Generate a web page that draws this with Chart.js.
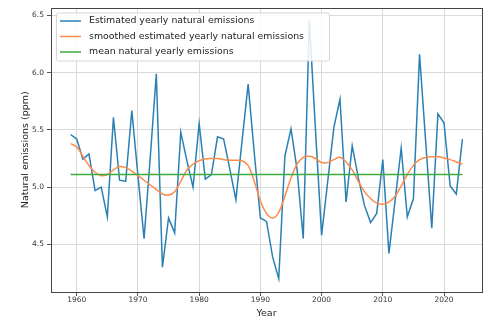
<!DOCTYPE html>
<html>
<head>
<meta charset="utf-8">
<script src="https://cdn.jsdelivr.net/npm/chart.js@4.4.1/dist/chart.umd.min.js"></script>
<style>
  html, body { margin: 0; padding: 0; background: #fff; }
  #wrap { width: 500px; height: 329px; }
</style>
</head>
<body>
<div id="wrap"><canvas id="chart" width="500" height="329"></canvas></div>
<script>
// Data
const YEARS = [1959, 1960, 1961, 1962, 1963, 1964, 1965, 1966, 1967, 1968, 1969,
  1970, 1971, 1972, 1973, 1974, 1975, 1976, 1977, 1978, 1979,
  1980, 1981, 1982, 1983, 1984, 1985, 1986, 1987, 1988, 1989,
  1990, 1991, 1992, 1993, 1994, 1995, 1996, 1997, 1998, 1999,
  2000, 2001, 2002, 2003, 2004, 2005, 2006, 2007, 2008, 2009,
  2010, 2011, 2012, 2013, 2014, 2015, 2016, 2017, 2018, 2019,
  2020, 2021, 2022, 2023];
const EMISSIONS = [5.46, 5.42, 5.245, 5.29, 4.97, 5.00, 4.74, 5.61, 5.06, 5.05, 5.67,
  5.10, 4.55, 5.25, 5.99, 4.30, 4.73, 4.60, 5.48, 5.23, 5.00,
  5.555, 5.07, 5.11, 5.44, 5.42, 5.16, 4.89, 5.40, 5.90, 5.30,
  4.73, 4.70, 4.39, 4.20, 5.27, 5.51, 5.15, 4.55, 6.46, 5.50,
  4.58, 5.05, 5.52, 5.77, 4.87, 5.36, 5.08, 4.84, 4.69, 4.77,
  5.24, 4.42, 4.88, 5.34, 4.74, 4.90, 6.16, 5.40, 4.64, 5.64,
  5.56, 5.01, 4.94, 5.42];
const SMOOTHED = [5.38, 5.35, 5.27, 5.19, 5.13, 5.10, 5.11, 5.15, 5.18, 5.17, 5.14,
  5.10, 5.06, 5.02, 4.98, 4.94, 4.93, 4.96, 5.05, 5.15, 5.20,
  5.23, 5.245, 5.25, 5.25, 5.24, 5.235, 5.235, 5.23, 5.19, 5.05,
  4.88, 4.77, 4.73, 4.78, 4.92, 5.08, 5.20, 5.26, 5.27, 5.25,
  5.215, 5.215, 5.24, 5.26, 5.22, 5.15, 5.05, 4.96, 4.90, 4.86,
  4.85, 4.87, 4.92, 5.01, 5.11, 5.19, 5.24, 5.26, 5.265, 5.265,
  5.255, 5.24, 5.22, 5.20];
const MEAN_YEARS = [1959, 2023];
const MEAN_VALUES = [5.11, 5.11];
const X_TICKS = [1960, 1970, 1980, 1990, 2000, 2010, 2020];
const Y_TICKS = [4.5, 5.0, 5.5, 6.0, 6.5];
const SERIES_LABELS = ['Estimated yearly natural emissions',
  'smoothed estimated yearly natural emissions',
  'mean natural yearly emissions'];
const COLORS = ['#2a80b3', '#ff8a4a', '#3cac3c'];

const toPoints = (xs, ys) => xs.map((x, i) => ({ x: x, y: ys[i] }));
const FONT = 'DejaVu Sans';

// frame on all four sides + legend box inside the plot
const framePlugin = {
  id: 'frame',
  afterDatasetsDraw(chart) {
    const { ctx, chartArea: a } = chart;
    ctx.save();
    ctx.strokeStyle = '#444';
    ctx.lineWidth = 1;
    const l = Math.round(a.left) + 0.5, t = Math.round(a.top) + 0.5;
    const r = Math.round(a.right) + 0.5, b = Math.round(a.bottom) + 0.5;
    ctx.strokeRect(l, t, r - l, b - t);

    // legend
    const bx = a.left + 5, by = a.top + 5, bw = 273, bh = 48;
    ctx.fillStyle = 'rgba(255,255,255,0.85)';
    ctx.strokeStyle = '#d6d6d6';
    ctx.beginPath();
    ctx.roundRect(bx + 0.5, by + 0.5, bw, bh, 2);
    ctx.fill();
    ctx.stroke();
    ctx.font = '9.4px "' + FONT + '"';
    ctx.textBaseline = 'middle';
    ctx.textAlign = 'left';
    SERIES_LABELS.forEach((lbl, i) => {
      const y = by + 8.5 + i * 15.5;
      ctx.strokeStyle = COLORS[i];
      ctx.lineWidth = 1.5;
      ctx.beginPath();
      ctx.moveTo(bx + 4, y);
      ctx.lineTo(bx + 25, y);
      ctx.stroke();
      ctx.fillStyle = '#222';
      ctx.fillText(lbl, bx + 33, y);
    });
    ctx.restore();
  }
};

const ctx = document.getElementById('chart').getContext('2d');
new Chart(ctx, {
  type: 'line',
  data: {
    datasets: [
      { label: SERIES_LABELS[0], data: toPoints(YEARS, EMISSIONS), borderColor: COLORS[0],
        borderWidth: 1.5, pointRadius: 0, tension: 0, order: 3 },
      { label: SERIES_LABELS[1], data: toPoints(YEARS, SMOOTHED), borderColor: COLORS[1],
        borderWidth: 1.5, pointRadius: 0, tension: 0.4, order: 2 },
      { label: SERIES_LABELS[2], data: toPoints(MEAN_YEARS, MEAN_VALUES), borderColor: COLORS[2],
        borderWidth: 1.5, pointRadius: 0, order: 1 },
    ]
  },
  options: {
    responsive: false,
    animation: false,
    layout: { padding: { top: 6, right: 18, left: 0, bottom: 0 } },
    plugins: { legend: { display: false }, tooltip: { enabled: false } },
    scales: {
      x: {
        type: 'linear', min: 1955.8, max: 2026.2,
        afterBuildTicks: s => { s.ticks = X_TICKS.map(v => ({ value: v })); },
        afterFit: s => { s.height = 37; },
        ticks: { callback: v => String(v), color: '#333', padding: 0,
          font: { family: FONT, size: 7.5 }, maxRotation: 0, autoSkip: false },
        grid: { color: '#d9d9d9', lineWidth: 1, tickLength: 4, tickColor: '#555' },
        border: { display: false },
        title: { display: true, text: 'Year', color: '#222',
          font: { family: FONT, size: 9.5 }, padding: { top: 0, bottom: 10 } }
      },
      y: {
        type: 'linear', min: 4.083, max: 6.57,
        afterBuildTicks: s => { s.ticks = Y_TICKS.map(v => ({ value: v })); },
        afterFit: s => { s.width = 51; },
        ticks: { callback: v => v.toFixed(1), color: '#333', padding: 3,
          font: { family: FONT, size: 7.5 } },
        grid: { color: '#d9d9d9', lineWidth: 1, tickLength: 4, tickColor: '#555' },
        border: { display: false },
        title: { display: true, text: 'Natural emissions (ppm)', color: '#222',
          font: { family: FONT, size: 9.5 }, padding: { top: 20, bottom: 0 } }
      }
    }
  },
  plugins: [framePlugin]
});
</script>
</body>
</html>
